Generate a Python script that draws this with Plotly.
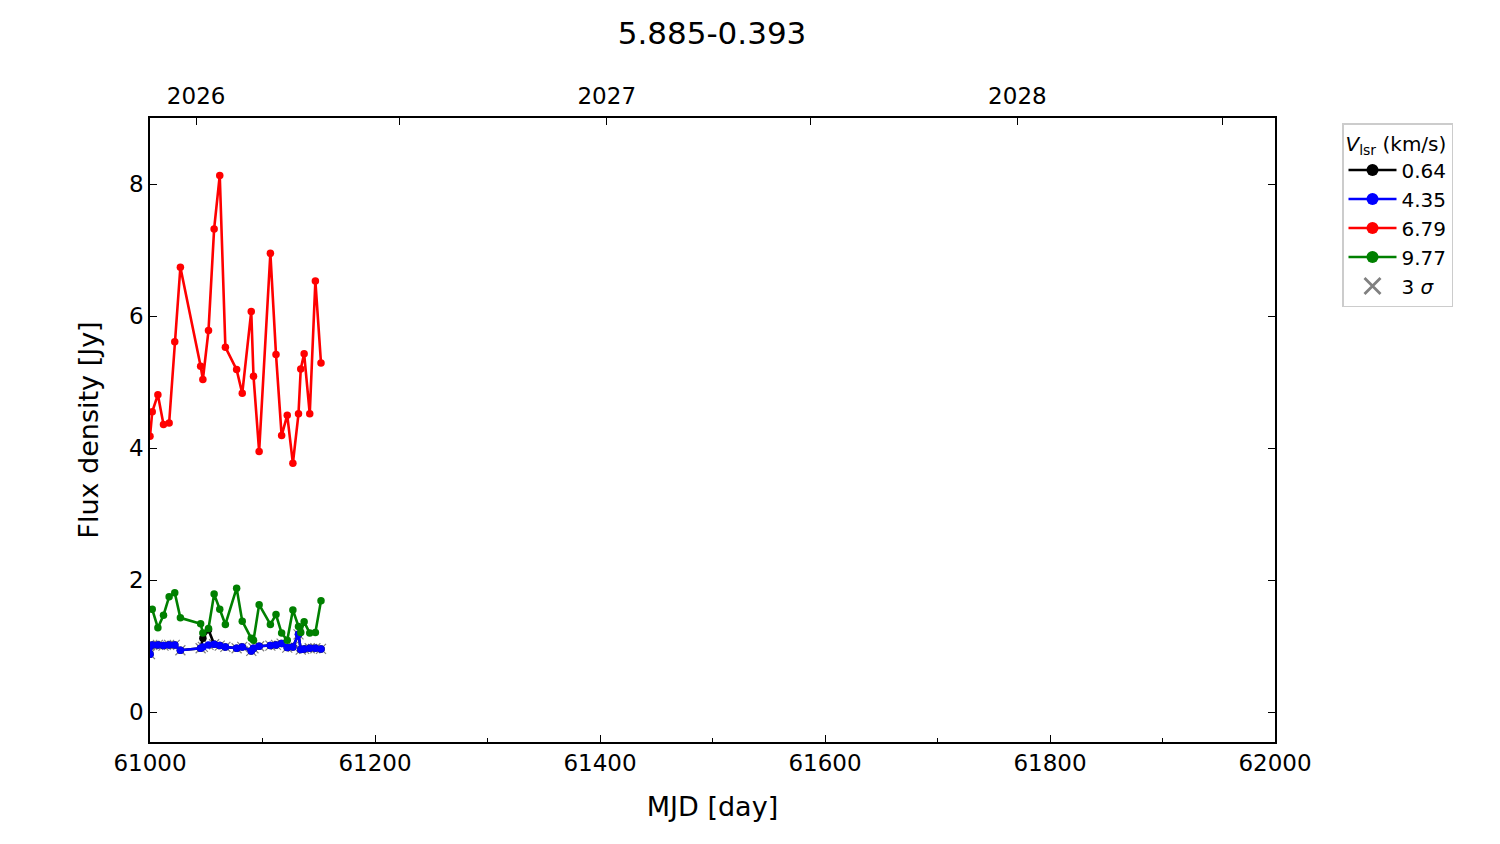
import plotly.graph_objects as go

# ---- data ----
mjd = [61000, 61002, 61007, 61012, 61017, 61022, 61027, 61045, 61047, 61052,
       61057, 61062, 61067, 61077, 61082, 61090, 61092, 61097, 61107, 61112,
       61117, 61122, 61127, 61132, 61134, 61137, 61142, 61147, 61152]

flux_679 = [4.18, 4.55, 4.81, 4.36, 4.38, 5.61, 6.74, 5.24, 5.04, 5.78,
            7.32, 8.13, 5.53, 5.19, 4.83, 6.07, 5.09, 3.95, 6.95, 5.42,
            4.19, 4.50, 3.77, 4.52, 5.20, 5.43, 4.52, 6.53, 5.29]

mjd_977 = mjd[1:]
flux_977 = [1.56, 1.28, 1.47, 1.75, 1.81, 1.43, 1.34, 1.20, 1.27,
            1.79, 1.56, 1.33, 1.88, 1.38, 1.12, 1.09, 1.63, 1.33, 1.48,
            1.20, 1.09, 1.55, 1.30, 1.21, 1.37, 1.20, 1.21, 1.69]

flux_435 = [0.88, 1.02, 1.02, 1.01, 1.02, 1.02, 0.94, 0.97, 0.99, 1.02,
            1.03, 1.01, 0.99, 0.97, 0.99, 0.93, 0.97, 1.00, 1.01, 1.02,
            1.04, 0.98, 0.99, 1.18, 0.95, 0.96, 0.97, 0.97, 0.96]

flux_064 = [0.88, 1.02, 1.02, 1.01, 1.02, 1.02, 0.94, 0.97, 1.12, 1.25,
            1.03, 1.01, 0.99, 0.97, 0.99, 0.93, 0.97, 1.00, 1.01, 1.02,
            1.04, 0.98, 0.99, 1.18, 0.95, 0.96, 0.97, 0.97, 0.96]

sigma3 = [0.88, 1.02, 1.02, 1.01, 1.02, 1.02, 0.94, 0.97, 0.99, 1.02,
          1.03, 1.01, 0.99, 0.97, 0.99, 0.93, 0.97, 1.00, 1.01, 1.02,
          1.04, 0.98, 0.99, 1.18, 0.95, 0.96, 0.97, 0.97, 0.96]

x_ticks = [61000, 61200, 61400, 61600, 61800, 62000]
x_ticktext = ["61000", "61200", "61400", "61600", "61800", "62000"]
x_minor = [61100, 61300, 61500, 61700, 61900]
y_ticks = [0, 2, 4, 6, 8]

year_mjd = [61041, 61222, 61406, 61587, 61771, 61953]
year_text = ["2026", "", "2027", "", "2028", ""]

series = [
    ("0.64", mjd, flux_064, "#000000"),
    ("4.35", mjd, flux_435, "#0000ff"),
    ("6.79", mjd, flux_679, "#ff0000"),
    ("9.77", mjd_977, flux_977, "#008000"),
]

FONT = "DejaVu Sans"
fig = go.Figure()

# 3 sigma points (drawn beneath the series)
fig.add_trace(go.Scatter(
    x=mjd, y=sigma3, mode="markers", name="3σ pts", showlegend=False,
    marker=dict(symbol="x-thin", size=10, color="#808080",
                line=dict(color="#808080", width=1.2)),
))

for name, xs, ys, col in series:
    fig.add_trace(go.Scatter(
        x=xs, y=ys, mode="lines+markers", name=name, showlegend=False,
        line=dict(color=col, width=2.6),
        marker=dict(color=col, size=7.5, symbol="circle"),
    ))

# legend-only entries (larger symbols, as in the reference legend)
for i, (name, xs, ys, col) in enumerate(series):
    fig.add_trace(go.Scatter(
        x=[None], y=[None], mode="lines+markers", name=name, legendrank=i + 1,
        line=dict(color=col, width=2.6),
        marker=dict(color=col, size=12, symbol="circle"),
    ))
fig.add_trace(go.Scatter(
    x=[None], y=[None], mode="markers", name="3 <i>σ</i>", legendrank=10,
    marker=dict(symbol="x-thin", size=17, color="#808080",
                line=dict(color="#808080", width=2.8)),
))

# invisible trace to activate top axis
fig.add_trace(go.Scatter(
    x=year_mjd, y=[None] * len(year_mjd), xaxis="x2", mode="markers",
    showlegend=False, hoverinfo="skip", marker=dict(opacity=0),
))

# page body has an 8px margin: compensate
fig.update_layout(
    width=1492, height=836,
    paper_bgcolor="white", plot_bgcolor="white",
    font=dict(family=FONT, color="black", size=23),
    margin=dict(l=142, r=225, t=110, b=102, autoexpand=False),
    title=dict(text="5.885-0.393", x=(712 - 8) / 1492, xanchor="center",
               y=1 - 25 / 836, yanchor="middle",
               font=dict(size=31, family=FONT)),
    showlegend=True,
    legend=dict(
        x=(1342 - 150) / 1125, y=(742 - 123) / 624, xanchor="left", yanchor="top",
        bgcolor="white", bordercolor="#cccccc", borderwidth=1.5,
        font=dict(size=20, family=FONT),
        title=dict(text="<i>V</i><sub>lsr</sub> (km/s)", font=dict(size=20, family=FONT)),
        tracegroupgap=0, itemwidth=48,
    ),
    xaxis=dict(
        range=[61000, 62000], tickmode="array",
        tickvals=x_ticks, ticktext=x_ticktext,
        ticks="inside", ticklen=7, tickwidth=1.2, tickcolor="black",
        minor=dict(tickvals=x_minor,
                   ticks="inside", ticklen=4, tickwidth=1, tickcolor="black"),
        showline=True, linecolor="black", linewidth=1.5, mirror=True,
        showgrid=False, zeroline=False,
        title=dict(text="MJD [day]", font=dict(size=27), standoff=22),
        tickfont=dict(size=23),
    ),
    xaxis2=dict(
        overlaying="x", side="top", range=[61000, 62000],
        tickmode="array", tickvals=year_mjd, ticktext=year_text,
        ticks="inside", ticklen=7, tickwidth=1.2, tickcolor="black",
        showgrid=False, zeroline=False, showline=False,
        tickfont=dict(size=23), ticklabelstandoff=8,
    ),
    yaxis=dict(
        range=[-0.45, 9.0], tickmode="array", tickvals=y_ticks,
        ticks="inside", ticklen=7, tickwidth=1.2, tickcolor="black",
        showline=True, linecolor="black", linewidth=1.5, mirror="ticks",
        showgrid=False, zeroline=False,
        title=dict(text="Flux density [Jy]", font=dict(size=27), standoff=23),
        tickfont=dict(size=23),
    ),
)

fig.write_html("out.html")
